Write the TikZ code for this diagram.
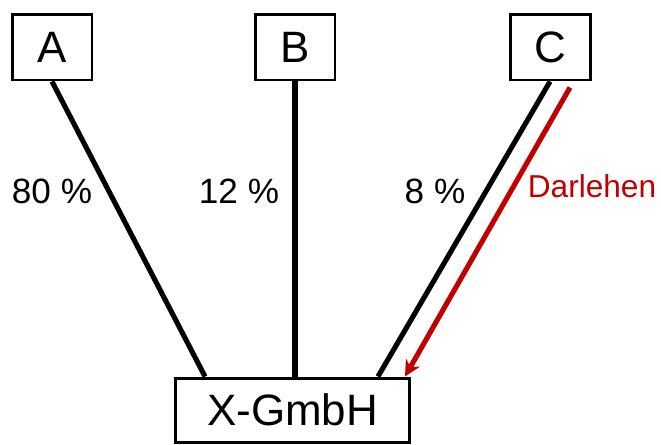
\documentclass[tikz,border=0pt]{standalone}
\usepackage{fontspec}
\setmainfont{Liberation Sans}
\usetikzlibrary{calc,arrows.meta}
\definecolor{darlehenrot}{RGB}{192,0,0}

\begin{document}
\begin{tikzpicture}[x=0.02cm, y=-0.02cm,
    box/.style={draw, line width=1.7pt, minimum width=1.6cm, minimum height=1.32cm, inner sep=0pt, font=\fontsize{25}{30}\selectfont},
    anteil/.style={line width=2.9pt},
    quote/.style={anchor=base, font=\fontsize{20}{24}\selectfont}]
            \useasboundingbox (0, 0) rectangle (661, 444);

            \node [box] (A) at (52, 47) {A};
            \node [box] (B) at (295, 47) {B};
            \node [box] (C) at (550, 47) {C};
            \node [box, minimum width=4.7cm, minimum height=1.28cm] (X) at (292.5, 410) {X-GmbH};

            \draw [anteil] (A.south) to ($(X.north) + (-87.5, 0)$);
            \draw [anteil] (B.south) to (B.south |- X.north);
            \draw [anteil] (C.south) to ($(X.north) + (85.5, 0)$);

            \coordinate (kredit) at ($(C.south) + (20, 6)$);
            \draw [anteil, darlehenrot, -{Stealth[length=0.32cm, width=0.32cm]}] (kredit) to ($(X.north) + (112.5, 0)$);

            \node [quote] (pa) at (52, 203) {80 \%};
            \node [quote] (pb) at (239, 203) {12 \%};
            \node [quote] (pc) at (435, 203) {8 \%};
            \node [quote, darlehenrot, font=\fontsize{18}{22}\selectfont] (dl) at (592, 197) {Darlehen};
        \end{tikzpicture}
\end{document}
